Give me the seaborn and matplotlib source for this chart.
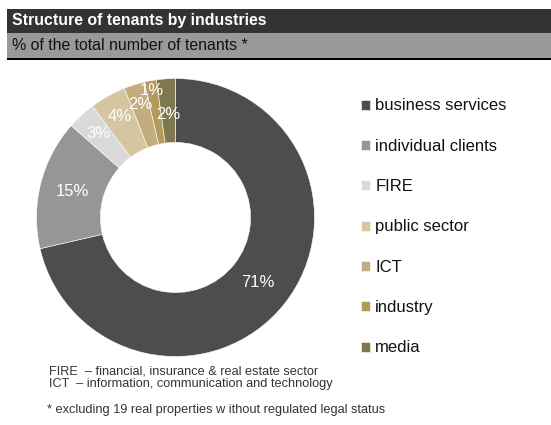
import numpy as np
import matplotlib
matplotlib.use("Agg")
import matplotlib.pyplot as plt
import seaborn as sns
from matplotlib.patches import Rectangle

# ---- data ----
categories = ["business services", "individual clients", "FIRE", "public sector",
              "ICT", "industry", "media"]
shares = [71.4, 15.1, 3.3, 4.2, 2.4, 1.4, 2.2]
colors = ["#4d4d4d", "#969696", "#d9d9d9", "#d5c6a1", "#c3ad7e", "#b39a5c", "#7f774f"]
title = "Structure of tenants by industries"
subtitle = "% of the total number of tenants *"
notes = ["FIRE  – financial, insurance & real estate sector",
         "ICT  – information, communication and technology"]
footnote = "* excluding 19 real properties w ithout regulated legal status"
label_radius = [0.755, 0.763, 0.82, 0.83, 0.85, 0.93, 0.74]

sns.set_theme(style="white")
plt.rcParams["font.family"] = ["Liberation Sans", "DejaVu Sans"]
palette = sns.color_palette(colors)

W, H = 551, 425
fig = plt.figure(figsize=(W / 100, H / 100), dpi=100)

# header bars
fig.patches.append(Rectangle((7 / W, 1 - 33 / H), 1 - 7 / W, 24 / H, transform=fig.transFigure,
                             facecolor="#333333", edgecolor="none", zorder=0))
fig.patches.append(Rectangle((7 / W, 1 - 58 / H), 1 - 7 / W, 25 / H, transform=fig.transFigure,
                             facecolor="#999999", edgecolor="none", zorder=0))
fig.patches.append(Rectangle((7 / W, 1 - 60 / H), 1 - 7 / W, 2 / H, transform=fig.transFigure,
                             facecolor="#000000", edgecolor="none", zorder=0))
fig.text(12 / W, 1 - 21 / H, title, color="white", fontsize=11.4, fontweight="bold",
         va="center", ha="left")
fig.text(12 / W, 1 - 46 / H, subtitle, color="#111111", fontsize=11.4,
         va="center", ha="left")

cx, cy, r = 175.5, 217.5, 139
ax = fig.add_axes([(cx - r) / W, (H - cy - r) / H, 2 * r / W, 2 * r / H])
wedges, _ = ax.pie(shares, colors=palette, startangle=90, counterclock=False,
                   radius=1.0, wedgeprops=dict(width=0.46, edgecolor="white", linewidth=0.4))
ax.set_xlim(-1, 1)
ax.set_ylim(-1, 1)
ax.set_aspect("equal")
ax.axis("off")

for w, v, rr in zip(wedges, shares, label_radius):
    ang = np.deg2rad((w.theta1 + w.theta2) / 2)
    ax.text(rr * np.cos(ang), rr * np.sin(ang), f"{v:.0f}%", color="white",
            fontsize=12, ha="center", va="center")

leg = fig.legend(wedges, categories, loc="upper left",
                 bbox_to_anchor=(361 / W, 1 - 98.5 / H), frameon=False,
                 fontsize=12, handlelength=0.55, handleheight=0.55, handletextpad=0.3,
                 labelspacing=1.52, borderaxespad=0, borderpad=0)
for t in leg.get_texts():
    t.set_color("#111111")

fig.text(49 / W, 1 - 371 / H, notes[0], color="#333333", fontsize=9.2, va="center")
fig.text(49 / W, 1 - 384 / H, notes[1], color="#333333", fontsize=9.2, va="center")
fig.text(47 / W, 1 - 410 / H, footnote, color="#333333", fontsize=9.2, va="center")

fig.savefig("out.png", dpi=100)
